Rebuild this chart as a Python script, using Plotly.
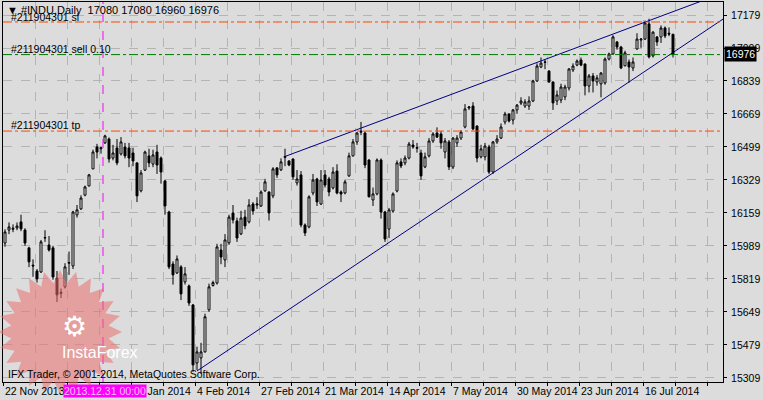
import math
import plotly.graph_objects as go

# daily OHLC of #INDU, bar index 0 = 22 Nov 2013
opens = [16004, 16071, 16075, 16082, 16113, 16071, 15979, 15890, 15860, 15855,
         16030, 15994, 15979, 15824, 15750, 15778, 15900, 15886, 16149, 16180,
         16251, 16298, 16386, 16499, 16490, 16520, 16540, 16442, 16494, 16463,
         16499, 16494, 16468, 16417, 16273, 16380, 16453, 16411, 16473, 16442,
         16324, 16164, 15896, 15850, 15881, 15804, 15783, 15685, 15386, 15412,
         15443, 15660, 15785, 15798, 15968, 15917, 16005, 16159, 16118, 16051,
         16138, 16113, 16205, 16200, 16195, 16273, 16267, 16247, 16391, 16381,
         16445, 16427, 16437, 16314, 16355, 16097, 16087, 16262, 16334, 16205,
         16355, 16334, 16288, 16375, 16267, 16262, 16350, 16453, 16525, 16575,
         16571, 16432, 16226, 16257, 16432, 16164, 16076, 16169, 16272, 16422,
         16417, 16442, 16509, 16492, 16468, 16396, 16453, 16530, 16571, 16566,
         16473, 16525, 16396, 16520, 16545, 16602, 16700, 16710, 16607, 16448,
         16448, 16499, 16370, 16525, 16545, 16628, 16669, 16638, 16690, 16725,
         16710, 16710, 16736, 16839, 16911, 16935, 16890, 16834, 16736, 16741,
         16757, 16803, 16896, 16921, 16947, 16926, 16813, 16865, 16834, 16824,
         16829, 16952, 16978, 17040, 17014, 16917, 16937, 16906, 17004, 17050,
         17055, 17133, 16968, 17066, 17066, 17112, 17085, 17080]
highs = [16075, 16110, 16100, 16110, 16150, 16080, 15985, 15920, 15870, 16020,
         16070, 16040, 15990, 15860, 15770, 15900, 15960, 16170, 16200, 16250,
         16300, 16360, 16485, 16515, 16500, 16562, 16548, 16510, 16540, 16550,
         16520, 16520, 16495, 16420, 16380, 16480, 16490, 16485, 16510, 16450,
         16330, 16170, 15910, 15940, 15890, 15880, 15790, 15690, 15470, 15490,
         15640, 15795, 15810, 16000, 16000, 16050, 16150, 16200, 16135, 16170,
         16175, 16230, 16215, 16240, 16275, 16335, 16270, 16395, 16395, 16440,
         16490, 16430, 16440, 16380, 16375, 16105, 16250, 16360, 16340, 16380,
         16380, 16345, 16395, 16410, 16275, 16330, 16470, 16540, 16575, 16628,
         16578, 16435, 16290, 16440, 16440, 16170, 16185, 16265, 16430, 16440,
         16455, 16525, 16535, 16520, 16485, 16470, 16545, 16575, 16600, 16580,
         16545, 16535, 16550, 16560, 16585, 16720, 16710, 16730, 16610, 16510,
         16520, 16510, 16530, 16560, 16620, 16680, 16670, 16695, 16720, 16755,
         16745, 16760, 16845, 16930, 16960, 16950, 16895, 16836, 16790, 16825,
         16820, 16905, 16930, 16950, 16960, 16930, 16875, 16880, 16870, 16885,
         16960, 16985, 17075, 17045, 17020, 16995, 16950, 16960, 17085, 17060,
         17150, 17160, 17095, 17070, 17125, 17120, 17115, 17080]
lows = [15985, 16050, 16060, 16070, 16065, 15990, 15880, 15830, 15800, 15850,
        16010, 15960, 15815, 15700, 15720, 15770, 15840, 15870, 16135, 16175,
        16245, 16296, 16385, 16440, 16465, 16515, 16418, 16430, 16405, 16455,
        16440, 16395, 16400, 16215, 16265, 16375, 16395, 16395, 16360, 16310,
        16150, 15870, 15790, 15845, 15710, 15790, 15680, 15340, 15350, 15330,
        15440, 15650, 15780, 15790, 15895, 15880, 15995, 16105, 16010, 16045,
        16075, 16105, 16150, 16180, 16190, 16268, 16120, 16235, 16340, 16375,
        16400, 16400, 16330, 16300, 16085, 16040, 16080, 16250, 16195, 16200,
        16290, 16245, 16280, 16255, 16215, 16255, 16345, 16450, 16510, 16560,
        16390, 16240, 16195, 16250, 16130, 16010, 16030, 16160, 16265, 16390,
        16405, 16435, 16490, 16470, 16330, 16390, 16445, 16520, 16545, 16490,
        16440, 16380, 16385, 16500, 16535, 16595, 16690, 16585, 16420, 16440,
        16430, 16360, 16360, 16515, 16540, 16615, 16625, 16615, 16670, 16715,
        16700, 16690, 16730, 16835, 16905, 16900, 16830, 16690, 16715, 16725,
        16740, 16790, 16885, 16915, 16915, 16765, 16780, 16780, 16815, 16755,
        16820, 16945, 16975, 17000, 16900, 16915, 16830, 16890, 17000, 17010,
        17050, 16955, 16960, 17020, 17035, 17060, 17070, 16960]
closes = [16061, 16087, 16080, 16092, 16077, 16004, 15907, 15886, 15819, 16010,
          16032, 15968, 15829, 15737, 15745, 15881, 15903, 16164, 16175, 16236,
          16293, 16355, 16473, 16473, 16494, 16556, 16437, 16468, 16417, 16525,
          16453, 16442, 16427, 16247, 16365, 16473, 16417, 16458, 16406, 16370,
          16195, 15881, 15840, 15922, 15742, 15845, 15695, 15376, 15443, 15443,
          15624, 15778, 15800, 15984, 15932, 16020, 16138, 16123, 16030, 16133,
          16092, 16200, 16169, 16205, 16267, 16319, 16159, 16386, 16355, 16422,
          16450, 16406, 16345, 16334, 16097, 16056, 16242, 16329, 16216, 16329,
          16303, 16267, 16370, 16262, 16257, 16319, 16453, 16525, 16571, 16580,
          16406, 16242, 16257, 16432, 16164, 16025, 16175, 16257, 16417, 16401,
          16442, 16514, 16499, 16496, 16350, 16448, 16530, 16566, 16550, 16520,
          16530, 16396, 16545, 16545, 16576, 16695, 16705, 16592, 16442, 16489,
          16504, 16370, 16525, 16540, 16602, 16669, 16633, 16690, 16715, 16736,
          16731, 16736, 16839, 16916, 16931, 16937, 16834, 16726, 16767, 16808,
          16808, 16901, 16916, 16942, 16921, 16813, 16865, 16839, 16855, 16880,
          16952, 16978, 17066, 17014, 16906, 16984, 16911, 16937, 17055, 17055,
          17138, 16963, 17091, 17040, 17112, 17071, 17081, 16976]

price_ticks = [17179, 17009, 16839, 16669, 16499, 16329, 16159, 15989, 15819, 15649, 15479, 15309]
date_labels = ["22 Nov 2013", "", "13 Jan 2014", "4 Feb 2014", "27 Feb 2014", "21 Mar 2014",
               "14 Apr 2014", "7 May 2014", "30 May 2014", "23 Jun 2014", "16 Jul 2014"]

sl_level = 17143
sell_level = 16975
tp_level = 16581
upper_x = [70, 174]
upper_y = [16450, 17250]
lower_x = [48, 179.5]
lower_y = [15345, 17158]
marker_bar = 24.5
last_price = 16976

bars = list(range(len(closes)))
BG = "#dcdcdc"
FONT = "Liberation Sans"

fig = go.Figure()
fig.add_trace(go.Candlestick(
    x=bars, open=opens, high=highs, low=lows, close=closes,
    increasing=dict(line=dict(color="black", width=1), fillcolor="white"),
    decreasing=dict(line=dict(color="black", width=1), fillcolor="black"),
    whiskerwidth=0, showlegend=False, hoverinfo="skip"))

fig.add_trace(go.Scatter(x=upper_x, y=upper_y, mode="lines",
                         line=dict(color="#000080", width=1), showlegend=False))
fig.add_trace(go.Scatter(x=lower_x, y=lower_y, mode="lines",
                         line=dict(color="#000080", width=1), showlegend=False))

for lvl, col in [(sl_level, "#ff4500"), (tp_level, "#ff4500"), (sell_level, "#007800")]:
    fig.add_hline(y=lvl, line=dict(color=col, width=1, dash="dashdot"))
fig.add_vline(x=marker_bar, line=dict(color="#ff00ff", width=1, dash="dash"))

# InstaForex watermark star (pixel coords -> paper)
cx, cy, ro, ri, n = 60, 332, 62, 49, 24
pts = []
for k in range(2 * n):
    r = ro if k % 2 == 0 else ri
    a = math.pi * k / n
    px, py = cx + r * math.sin(a), cy - r * math.cos(a)
    pts.append(((px - 3) / 720, (382 - py) / 380))
path = "M " + " L ".join(f"{x:.4f},{y:.4f}" for x, y in pts) + " Z"
fig.add_shape(type="path", path=path, xref="paper", yref="paper",
              fillcolor="rgba(235,110,110,0.55)", line=dict(width=0), layer="above")

ann = []
ann.append(dict(x=(60 - 3) / 720, y=(382 - 326) / 380, text="⚙", font=dict(size=28, color="white")))
ann.append(dict(x=(60 - 3) / 720, y=(382 - 352) / 380, text="InstaForex", font=dict(size=16, color="white")))
ann.append(dict(x=(6 - 3) / 720, y=(382 - 374) / 380, text="IFX Trader, © 2001-2014, MetaQuotes Software Corp.",
                xanchor="left", font=dict(size=10.5, color="black")))
ann.append(dict(x=(5 - 3) / 720, y=(382 - 10) / 380, text="▼ #INDU,Daily  17080 17080 16960 16976",
                xanchor="left", font=dict(size=11, color="black")))
ann.append(dict(x=(9 - 3) / 720, y=(382 - 17) / 380, text="#211904301 sl",
                xanchor="left", font=dict(size=10.5, color="black")))
ann.append(dict(x=(9 - 3) / 720, y=(382 - 49) / 380, text="#211904301 sell 0.10",
                xanchor="left", font=dict(size=10.5, color="black")))
ann.append(dict(x=(9 - 3) / 720, y=(382 - 125) / 380, text="#211904301 tp",
                xanchor="left", font=dict(size=10.5, color="black")))
for k, lab in enumerate(date_labels):
    if lab:
        ann.append(dict(x=-0.5 + 16 * k, xref="x", y=(382 - 391) / 380, text=lab, xanchor="left",
                        font=dict(size=10.5, color="black")))
ann.append(dict(x=(63 - 3) / 720, y=(382 - 391) / 380, text="2013.12.31 00:00", xanchor="left",
                bgcolor="#ff00ff", font=dict(size=10.5, color="#ffc0ff"), borderpad=0))
ann.append(dict(x=1.002, y=last_price, yref="y", text=str(last_price), xanchor="left",
                bgcolor="black", font=dict(size=10.5, color="white"), borderpad=1))
for a in ann:
    a.setdefault("xref", "paper")
    a.setdefault("yref", "paper")
    a.setdefault("showarrow", False)
    a.setdefault("yanchor", "middle")
    fig.add_annotation(**a)

fig.update_layout(
    width=763, height=400,
    margin=dict(l=3, r=40, t=2, b=18),
    paper_bgcolor=BG, plot_bgcolor=BG,
    font=dict(family=FONT, size=10.5, color="black"),
    xaxis=dict(range=[-0.5, 179.5], rangeslider=dict(visible=False),
               tickvals=[-0.5 + 8 * k for k in range(23)], showticklabels=False,
               showgrid=True, gridcolor="#b4b4b4", griddash="dash", gridwidth=1,
               zeroline=False, showline=True, linecolor="black", mirror=True,
               ticks="outside", ticklen=3, tickcolor="black"),
    yaxis=dict(range=[15288, 17246], side="right", tickvals=price_ticks,
               ticktext=[str(v) for v in price_ticks],
               showgrid=True, gridcolor="#b4b4b4", griddash="dash", gridwidth=1,
               zeroline=False, showline=True, linecolor="black", mirror=True,
               ticks="outside", ticklen=3, tickcolor="black", ticklabelstandoff=2),
)

fig.write_html("out.html", config={"displayModeBar": False},
               post_script="document.body.style.margin='0px';")
